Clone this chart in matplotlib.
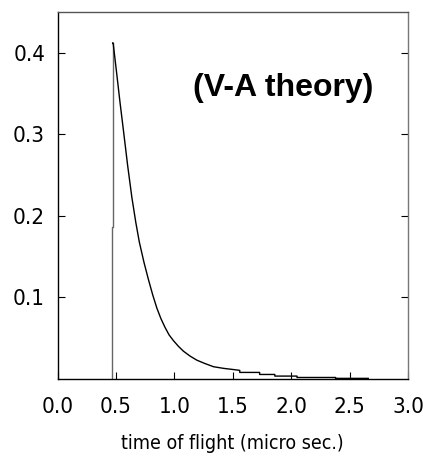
import matplotlib
matplotlib.use("Agg")
import matplotlib.pyplot as plt

# time of flight spectrum, V-A theory
t_edge = [0.465, 0.465, 0.472, 0.472]
y_edge = [0.0, 0.186, 0.186, 0.412]

t_curve = [0.472, 0.476, 0.507, 0.535, 0.564, 0.60, 0.636, 0.67, 0.70, 0.74,
           0.778, 0.815, 0.850, 0.885, 0.921, 0.955, 0.992, 1.035, 1.078, 1.135,
           1.193, 1.26, 1.335, 1.42, 1.507, 1.56,
           1.56, 1.73, 1.73, 1.86, 1.86, 2.05, 2.05, 2.38, 2.38, 2.66]
y_curve = [0.412, 0.412, 0.374, 0.339, 0.305, 0.262, 0.223, 0.192, 0.168, 0.143,
           0.122, 0.103, 0.087, 0.074, 0.063, 0.054, 0.047, 0.040, 0.034, 0.028,
           0.023, 0.019, 0.015, 0.013, 0.0115, 0.0105,
           0.008, 0.008, 0.0055, 0.0055, 0.0035, 0.0035, 0.0018, 0.0018, 0.0007, 0.0007]

x_ticks = [0.0, 0.5, 1.0, 1.5, 2.0, 2.5, 3.0]
y_ticks = [0.1, 0.2, 0.3, 0.4]

narrow = dict(family="DejaVu Sans", stretch="condensed")

fig = plt.figure(figsize=(4.23, 4.61), dpi=100)
ax = fig.add_axes([0.136, 0.178, 0.8285, 0.796])

ax.plot(t_edge, y_edge, color="#666666", lw=1.0)
ax.plot(t_curve, y_curve, color="black", lw=1.0)

ax.set_xlim(0, 3.0)
ax.set_ylim(0, 0.45)
ax.set_xticks(x_ticks)
ax.set_xticklabels([f"{v:.1f}" for v in x_ticks], fontsize=16, **narrow)
ax.set_yticks(y_ticks)
ax.set_yticklabels([f"{v:.1f}" for v in y_ticks], fontsize=16, **narrow)
ax.tick_params(direction="in", length=5, width=0.8, right=True, top=False)
ax.tick_params(axis="x", pad=13)
ax.tick_params(axis="y", pad=9)
for s in ax.spines.values():
    s.set_linewidth(1.0)
ax.spines["right"].set_color("#777777")
ax.spines["top"].set_color("#555555")

ax.set_xlabel("time of flight (micro sec.)", fontsize=14, labelpad=12, **narrow)
ax.text(0.645, 0.793, "(V-A theory)", transform=ax.transAxes, ha="center", va="center",
        fontsize=23, fontweight="bold", fontstretch="normal",
        family=["Liberation Sans", "DejaVu Sans"])

fig.savefig("out.png", dpi=100)
